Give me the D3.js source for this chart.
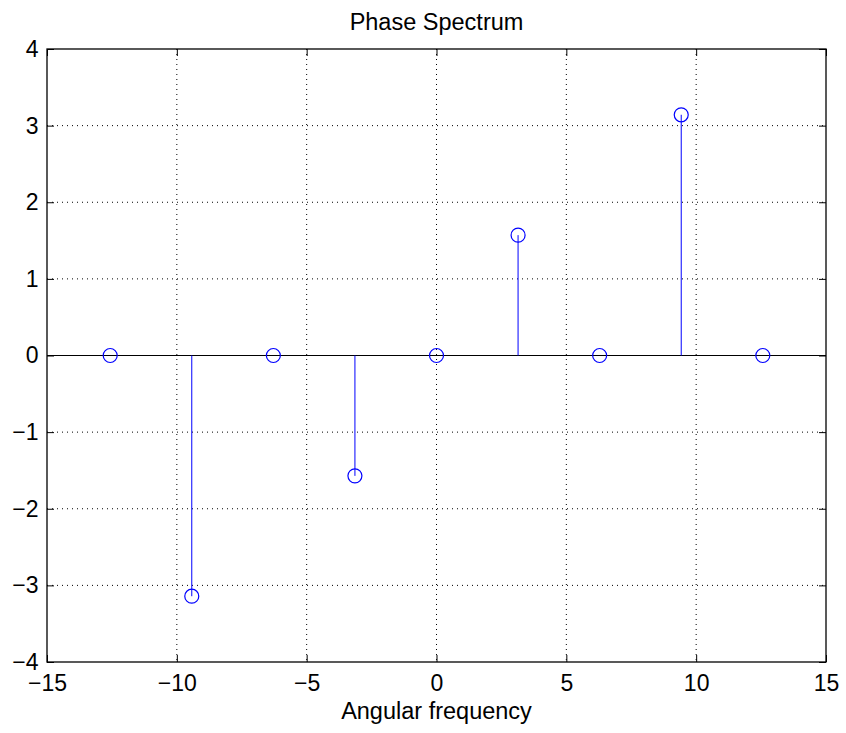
<!DOCTYPE html>
<html><head><meta charset="utf-8">
<script src="https://cdn.jsdelivr.net/npm/d3@7"></script>
<style>body{margin:0;background:#fff}svg{display:block}text{font-family:"Liberation Sans",Arial,sans-serif}</style>
</head><body>
<svg id="c" width="846" height="733"></svg>
<script>
const PI = Math.PI;
const freq = [-4*PI, -3*PI, -2*PI, -PI, 0, PI, 2*PI, 3*PI, 4*PI];
const phase = [0, -PI, 0, -PI/2, 0, PI/2, 0, PI, 0];
const xTicks = [-15, -10, -5, 0, 5, 10, 15];
const yTicks = [-4, -3, -2, -1, 0, 1, 2, 3, 4];
const title = "Phase Spectrum";
const xLabel = "Angular frequency";

const svg = d3.select("#c");
const L = 47, R = 826, T = 49, B = 662;
const x = d3.scaleLinear().domain([-15, 15]).range([L, R]);
const y = d3.scaleLinear().domain([-4, 4]).range([B, T]);
const fmt = v => (v < 0 ? "\u2212" + Math.abs(v) : String(v));
const FS = 23;

// grid
const g = svg.append("g");
g.selectAll(".gx").data(xTicks.slice(1, -1)).join("line")
  .attr("x1", d => x(d)).attr("x2", d => x(d)).attr("y1", T).attr("y2", B)
  .attr("stroke", "#000").attr("stroke-width", 1).attr("stroke-dasharray", "1,4");
g.selectAll(".gy").data(yTicks.slice(1, -1)).join("line")
  .attr("y1", d => y(d)).attr("y2", d => y(d)).attr("x1", L).attr("x2", R)
  .attr("stroke", "#000").attr("stroke-width", 1).attr("stroke-dasharray", "1,4");

// baseline
svg.append("line").attr("x1", L).attr("x2", R).attr("y1", y(0)).attr("y2", y(0))
  .attr("stroke", "#000").attr("stroke-width", 1);

// axes with inward ticks
const tl = 7;
svg.append("g").attr("transform", `translate(0,${B})`)
  .call(d3.axisBottom(x).tickValues(xTicks).tickSize(-tl).tickPadding(13).tickFormat(fmt))
  .call(a => a.select(".domain").remove());
svg.append("g").attr("transform", `translate(0,${T})`)
  .call(d3.axisTop(x).tickValues(xTicks).tickSize(-tl).tickFormat(""))
  .call(a => a.select(".domain").remove());
svg.append("g").attr("transform", `translate(${L},0)`)
  .call(d3.axisLeft(y).tickValues(yTicks).tickSize(-tl).tickPadding(8.5).tickFormat(fmt))
  .call(a => a.select(".domain").remove());
svg.append("g").attr("transform", `translate(${R},0)`)
  .call(d3.axisRight(y).tickValues(yTicks).tickSize(-tl).tickFormat(""))
  .call(a => a.select(".domain").remove());
svg.selectAll(".tick text").attr("font-size", FS).style("font-size", FS + "px").attr("fill", "#000")
  .style("font-family", "'Liberation Sans',Arial,sans-serif");
svg.selectAll(".tick line").attr("stroke", "#000");

// box
svg.append("rect").attr("x", L).attr("y", T).attr("width", R - L).attr("height", B - T)
  .attr("fill", "none").attr("stroke", "#000").attr("stroke-width", 1.3);

// stems
const data = freq.map((f, i) => ({f, p: phase[i]}));
svg.selectAll(".stem").data(data).join("line")
  .attr("x1", d => x(d.f)).attr("x2", d => x(d.f))
  .attr("y1", y(0)).attr("y2", d => y(d.p))
  .attr("stroke", "#0000ff").attr("stroke-width", 1);
svg.selectAll(".mk").data(data).join("circle")
  .attr("cx", d => x(d.f)).attr("cy", d => y(d.p)).attr("r", 7)
  .attr("fill", "none").attr("stroke", "#0000ff").attr("stroke-width", 1.2);

svg.append("text").attr("x", (L + R) / 2).attr("y", 30).attr("text-anchor", "middle")
  .style("font-size", "23.5px").text(title);
svg.append("text").attr("x", (L + R) / 2).attr("y", 719).attr("text-anchor", "middle")
  .style("font-size", "23.5px").text(xLabel);
</script>
</body></html>
